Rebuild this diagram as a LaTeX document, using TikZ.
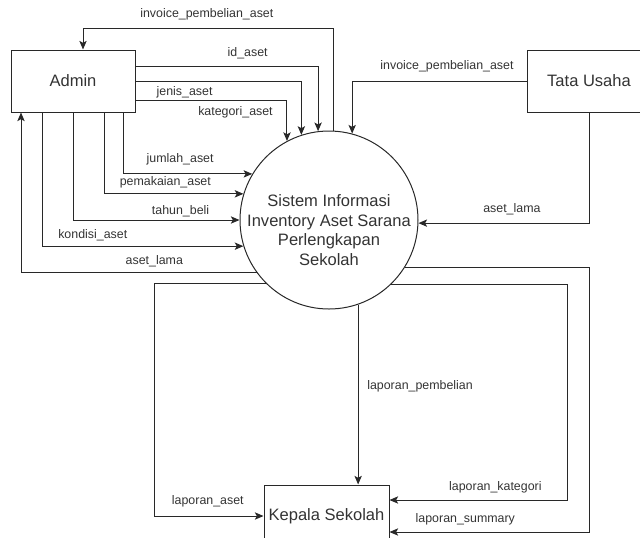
\documentclass[tikz,border=0pt]{standalone}
\usepackage{fontspec}
\setmainfont{Liberation Sans}
\usepackage{tikz}
\usetikzlibrary{arrows.meta, calc}
\definecolor{linegray}{RGB}{40,40,40}
\definecolor{textgray}{RGB}{51,51,51}

\begin{document}
\begin{tikzpicture}[
  x=0.75pt, y=-0.75pt,
  entity/.style={rectangle, draw=linegray, line width=0.75pt,
                 minimum width=93pt, minimum height=46.5pt,
                 font=\fontsize{12.4}{14.6}\selectfont, text=textgray},
  proc/.style={circle, draw=linegray, line width=0.75pt,
               minimum size=133.5pt, inner sep=0pt},
  flow/.style={-{Stealth[length=6.5pt, width=5.5pt, inset=1.5pt]}, line width=0.75pt, linegray},
  lbl/.style={font=\fontsize{9.3}{11}\selectfont, text=textgray,
              inner sep=0pt, text height=6.7pt, text depth=0pt},
]
\useasboundingbox (0,0) rectangle (640,537);

\node[entity] (admin) at (73,81) {Admin};
\node[entity] (tata) at (589,81) {Tata Usaha};
\node[entity, minimum width=93.75pt] (kepala) at (326.5,516) {Kepala Sekolah};
\node[proc] (sis) at (329,220) {};
\node[align=center, font=\fontsize{12.4}{14.6}\selectfont, text=textgray] (sistxt)
  at ([yshift=-7.5pt]sis.center) {Sistem Informasi\\Inventory Aset Sarana\\Perlengkapan\\Sekolah};

% admin <-> sistem
\draw[flow] (sis.87.4) -- ++(0,-102) -| ($(admin.north)+(10,0)$)
  node[lbl, pos=.253, above=8.1pt] {invoice\_pembelian\_aset};
\draw[flow] ($(admin.east)+(0,-15)$) -| (sis.97.1) node[lbl, pos=.307, above=6.9pt] {id\_aset};
\draw[flow] (admin.east) -| (sis.108.3) node[lbl, pos=.148, below=3.5pt] {jenis\_aset};
\draw[flow] ($(admin.east)+(0,19)$) -| (sis.118.9) node[lbl, pos=.33, below=4.5pt] {kategori\_aset};
\draw[flow] ($(admin.south)+(50,0)$) |- (sis.149.6) node[lbl, pos=.721, above=8.5pt] {jumlah\_aset};
\draw[flow] ($(admin.south)+(31,0)$) |- (sis.163.7) node[lbl, pos=.72, above=5.6pt] {pemakaian\_aset};
\draw[flow] (admin.south) |- (sis.west) node[lbl, pos=.823, above=4.1pt] {tahun\_beli};
\draw[flow] ($(admin.south)+(-31,0)$) |- (sis.197.7) node[lbl, pos=.626, above=5.3pt] {kondisi\_aset};
\draw[flow] (sis.216.5) -| ($(admin.south)+(-52,0)$) node[lbl, pos=.217, above=5.9pt] {aset\_lama};

% tata usaha -> sistem
\draw[flow] (tata.west) -| (sis.75.7) node[lbl, pos=.228, above=8.1pt] {invoice\_pembelian\_aset};
\draw[flow] (tata.south) |- (sis.358.7) node[lbl, pos=.726, above=7.9pt] {aset\_lama};

% sistem -> kepala sekolah
\draw[flow] (sis.289) -- (sis.289 |- kepala.north) node[lbl, pos=.446, right=6.5pt] {laporan\_pembelian};
\draw[flow] (sis.225.1) -- ++(-111,0) |- (kepala.west) node[lbl, pos=.744, above=8.1pt] {laporan\_aset};
\draw[flow] (sis.314.9) -- ++(176,0) |- ([yshift=12pt]kepala.east)
  node[lbl, pos=.702, above=6.6pt] {laporan\_kategori};
\draw[flow] (sis.328.1) -- (sis.328.1 -| tata.south) |- ([yshift=-12pt]kepala.east)
  node[lbl, pos=.81, above=6.6pt] {laporan\_summary};

\end{tikzpicture}
\end{document}
